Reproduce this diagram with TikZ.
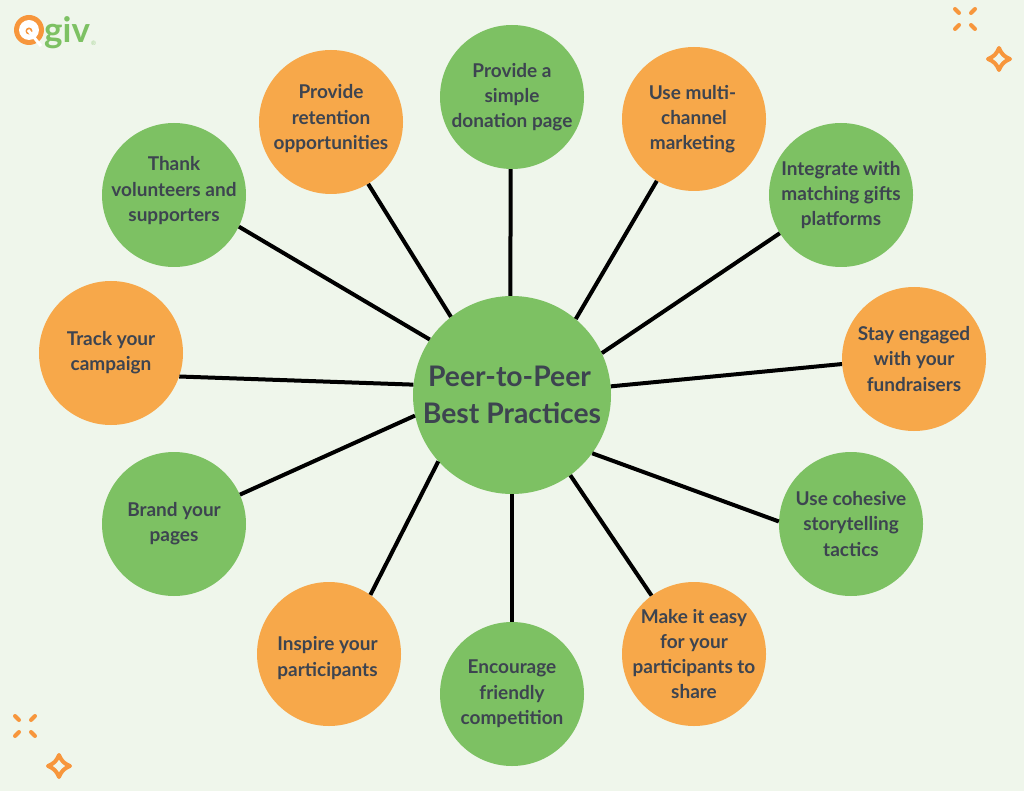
\documentclass[tikz,border=0pt]{standalone}
\usepackage{fontspec}
\setmainfont{Lato}
\definecolor{paper}{HTML}{EFF6EB}
\definecolor{leaf}{HTML}{7DC163}
\definecolor{peach}{HTML}{F7A84A}
\definecolor{ink}{HTML}{3D4450}
\definecolor{spark}{HTML}{F7963C}
\tikzset{
  tip/.style={circle,minimum size=144pt,inner sep=-12pt,align=center,text=ink,font=\fontsize{19}{25.3}\selectfont\bfseries},
  greentip/.style={tip,fill=leaf},
  orangetip/.style={tip,fill=peach},
  spoke/.style={line width=4pt,black},
  sparkle/.style={line width=4pt,spark,line cap=round,line join=round}
}
\newcommand{\fourstar}[2]{%
  \draw[sparkle] (#1-11,#2) .. controls (#1-5,#2-2.5) and (#1-2.5,#2-5) .. (#1,#2-11)
    .. controls (#1+2.5,#2-5) and (#1+5,#2-2.5) .. (#1+11,#2)
    .. controls (#1+5,#2+2.5) and (#1+2.5,#2+5) .. (#1,#2+11)
    .. controls (#1-2.5,#2+5) and (#1-5,#2+2.5) .. cycle;}
\newcommand{\fourticks}[2]{%
  \draw[sparkle] (#1-10,#2-10) -- (#1-6,#2-6);
  \draw[sparkle] (#1+10,#2-10) -- (#1+6,#2-6);
  \draw[sparkle] (#1-10,#2+10) -- (#1-6,#2+6);
  \draw[sparkle] (#1+10,#2+10) -- (#1+6,#2+6);}
\begin{document}
\begin{tikzpicture}[x=1pt,y=-1pt]
\fill[paper] (0,0) rectangle (1024,791);
\useasboundingbox (0,0) rectangle (1024,791);
\node[circle,fill=leaf,minimum size=198pt,inner sep=0pt,align=center,text=ink,font=\fontsize{28.3}{37}\selectfont\bfseries] (hub) at (512,395) {Peer-to-Peer\hspace*{5pt}\\Best Practices};
\node[greentip] (simple) at (512,97) {Provide a\\simple\\donation page};
\node[orangetip] (multi) at (694,119) {Use multi-\hspace*{3pt}\\channel\hspace*{3pt}\\marketing\hspace*{3pt}};
\node[greentip] (gifts) at (841,195) {Integrate with\\matching gifts\\platforms};
\node[orangetip] (engaged) at (914,359) {Stay engaged\\with your\\fundraisers};
\node[greentip] (story) at (851,524) {Use cohesive\\storytelling\\tactics};
\node[orangetip] (share) at (694,654) {Make it easy\\for your\\participants to\\share};
\node[greentip] (compete) at (512,694) {Encourage\\friendly\\competition};
\node[orangetip] (inspire) at (329,654) {\rule{0pt}{22pt}Inspire your\hspace*{3pt}\\participants\hspace*{3pt}};
\node[greentip] (brand) at (174,524) {Brand your\\pages};
\node[orangetip] (track) at (111,353) {Track your\\campaign};
\node[greentip] (thank) at (174,195) {Thank\\volunteers and\\supporters\rule[-12pt]{0pt}{12pt}};
\node[orangetip] (retain) at (331,122) {Provide\\retention\\opportunities\rule[-10pt]{0pt}{10pt}};
\draw[spoke] (hub.91) -- (simple.269);
\draw[spoke] (hub.50) -- (multi.239.7);
\draw[spoke] (hub.25.8) -- (gifts.212.3);
\draw[spoke] (hub.5.2) -- (engaged.184.8);
\draw[spoke] (hub.-36.8) -- (story.178.4);
\draw[spoke] (hub.-54.7) -- (share.126);
\draw[spoke] (hub.270) -- (compete.90);
\draw[spoke] (hub.222.2) -- (inspire.55.9);
\draw[spoke] (hub.192.7) -- (brand.24.4);
\draw[spoke] (hub.174.9) -- (track.-19.4);
\draw[spoke] (hub.146.5) -- (thank.-26.6);
\draw[spoke] (hub.128.1) -- (retain.-59.2);
% logo
\fill[spark] (29,30) circle (15);
\fill[white] (29,30) circle (10);
\fill[spark] (29,31) circle (3.5);
\draw[white,line width=3pt] (28,30) -- (41,46);
\node[text=leaf,font=\fontsize{35}{35}\selectfont\bfseries,inner sep=0pt,anchor=base west] (giv) at (44,42.5) {giv};
\node[text=leaf!70!paper,font=\fontsize{6}{6}\selectfont,inner sep=0pt,anchor=west] (reg) at (91,43) {®};
% sparkles
\fourticks{965}{19}
\fourstar{999}{59}
\fourticks{25}{726}
\fourstar{59}{766}
\end{tikzpicture}
\end{document}
